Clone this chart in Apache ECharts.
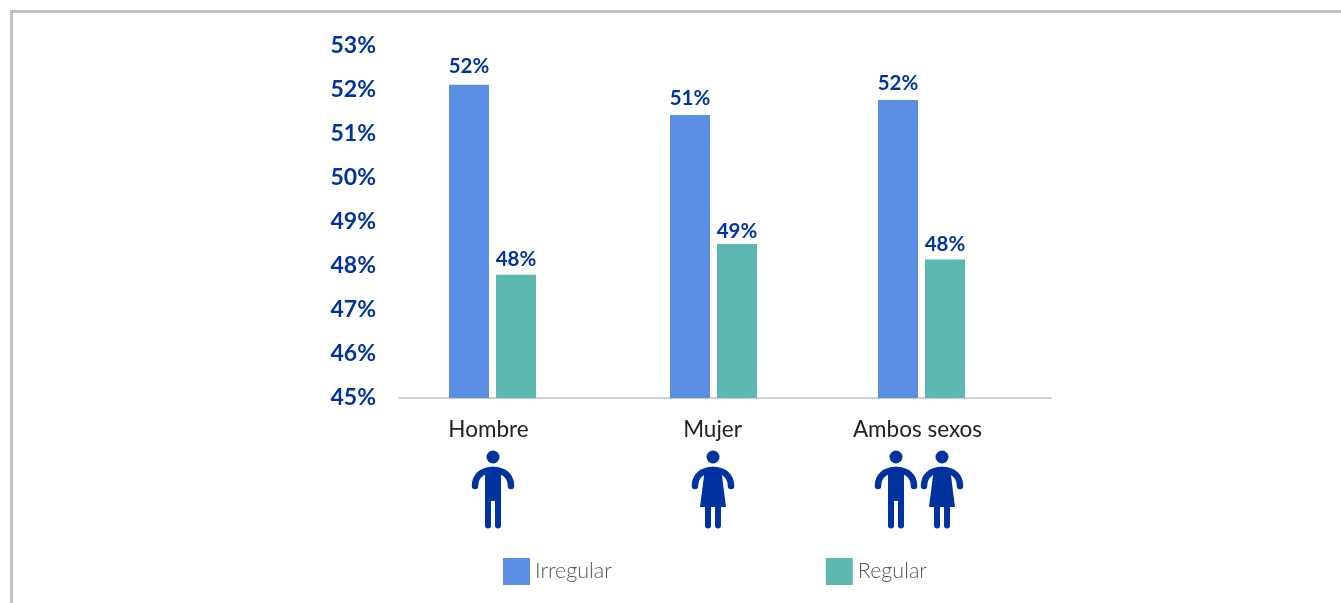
<!DOCTYPE html>
<html><head><meta charset="utf-8">
<style>html,body{margin:0;padding:0;background:#fff}#c{width:1341px;height:603px}</style>
<script src="https://cdn.jsdelivr.net/npm/echarts@6/dist/echarts.min.js"></script>
</head><body><div id="c"></div>
<script>
// data
const categories = ['Hombre', 'Mujer', 'Ambos sexos'];
const irregular = [52.12, 51.43, 51.77];
const regular = [47.8, 48.5, 48.15];
const yTicks = [45, 46, 47, 48, 49, 50, 51, 52, 53];

// The reference spaces its groups unevenly, so the category axis has fine spacer slots.
const slotCount = 652;
const groupSlots = [93, 314, 522];
const labelSlots = [89, 313, 518];
// The reference's value labels sit at slightly different heights above their bars.
const irregularLift = [8, 6, 6];
const regularLift = [5, 2, 5];

const slots = new Array(slotCount).fill('');
labelSlots.forEach((s, i) => { slots[s] = categories[i]; });
const spread = (vals, lift) => {
  const a = new Array(slotCount).fill(null);
  groupSlots.forEach((s, i) => { a[s] = {value: vals[i], label: {distance: lift[i]}}; });
  return a;
};

const BLUE = '#0033A0';
const barLabel = {
  show: true, position: 'top', color: BLUE,
  fontFamily: 'Lato', fontWeight: 'bold', fontSize: 20.5,
  formatter: p => Math.round(p.value) + '%'
};
const arm = s => ({type: 'bezierCurve',
  shape: {x1: s * 18, y1: 35, cpx1: s * 18, cpy1: 26, cpx2: s * 12, cpy2: 19, x2: 0, y2: 19},
  style: {fill: 'none', stroke: BLUE, lineWidth: 6.5, lineCap: 'round'}});
const head = () => ({type: 'circle', shape: {cx: 0, cy: 6, r: 6.5}, style: {fill: BLUE}});
const leg = (x, y1) => ({type: 'line', shape: {x1: x, y1: y1, x2: x, y2: 74.5},
  style: {stroke: BLUE, lineWidth: 6, lineCap: 'round'}});
const man = x => ({type: 'group', x: x, y: 451, children: [
  head(), arm(-1), arm(1),
  {type: 'rect', shape: {x: -8, y: 17, width: 16, height: 33}, style: {fill: BLUE}},
  leg(-5, 48), leg(5, 48)
]});
const woman = x => ({type: 'group', x: x, y: 451, children: [
  head(), arm(-1), arm(1),
  {type: 'polygon', shape: {points: [[-8, 17], [8, 17], [13, 56], [-13, 56]]}, style: {fill: BLUE}},
  leg(-5, 54), leg(5, 54)
]});

const chart = echarts.init(document.getElementById('c'));
chart.setOption({
  animation: false,
  backgroundColor: '#fff',
  grid: {left: 399, width: 652, top: 46, height: 352, containLabel: false},
  legend: {
    left: 498, top: 553, itemWidth: 27, itemHeight: 27, itemGap: 214,
    icon: 'rect', selectedMode: false,
    textStyle: {fontFamily: 'Lato', fontWeight: 300, fontSize: 21.5, color: '#555'},
    itemStyle: {borderWidth: 0}
  },
  xAxis: {
    type: 'category', data: slots,
    axisLine: {lineStyle: {color: '#BFC0C4', width: 1.5}},
    axisTick: {show: false},
    axisLabel: {interval: 0, margin: 20, color: '#222', fontFamily: 'Lato', fontSize: 22.5}
  },
  yAxis: {
    type: 'value', min: yTicks[0], max: yTicks[yTicks.length - 1], interval: 1,
    axisLine: {show: false}, axisTick: {show: false}, splitLine: {show: false},
    axisLabel: {margin: 23, color: BLUE, fontFamily: 'Lato', fontWeight: 'bold', fontSize: 23,
      padding: [0, 0, 8, 0], formatter: '{value}%'}
  },
  series: [
    {name: 'Irregular', type: 'bar', data: spread(irregular, irregularLift), barWidth: 40, barGap: '17.5%',
      itemStyle: {color: '#5B8FE6'}, label: barLabel},
    {name: 'Regular', type: 'bar', data: spread(regular, regularLift), barWidth: 40,
      itemStyle: {color: '#5DB8B2'}, label: barLabel}
  ],
  graphic: {elements: [
    {type: 'polyline', shape: {points: [[11.5, 603], [11.5, 11.5], [1341, 11.5]]},
      style: {fill: 'none', stroke: '#C0C0C4', lineWidth: 3}},
    man(493), woman(713), man(896), woman(942)
  ]}
});
</script></body></html>
